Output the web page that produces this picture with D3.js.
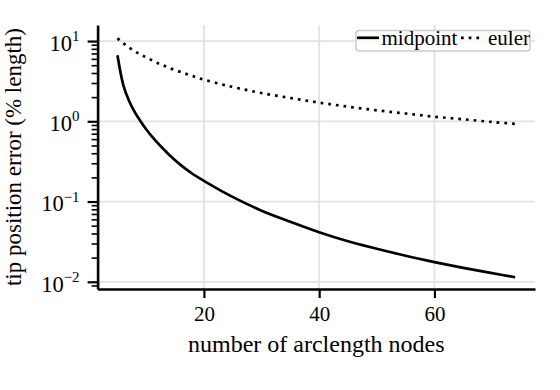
<!DOCTYPE html>
<html>
<head>
<meta charset="utf-8">
<script src="https://cdn.jsdelivr.net/npm/d3@7"></script>
<style>
  body { margin: 0; background: #fff; }
  svg { font-family: "Liberation Serif", "Times New Roman", serif; }
</style>
</head>
<body>
<div id="chart"></div>
<script>
// arclength node counts (x) and tip error in % length
const nodes = [5, 6, 7, 8, 9, 10, 11, 12, 13, 14, 16, 18, 20, 23, 26, 30, 35, 40, 45, 50, 55, 60, 65, 70, 74];
const midpoint = [6.64, 2.85, 1.8, 1.3, 1.0, 0.79, 0.645, 0.535, 0.45, 0.38, 0.284, 0.222, 0.181, 0.136, 0.105, 0.077, 0.056, 0.0415, 0.032, 0.0258, 0.0211, 0.0176, 0.0149, 0.0128, 0.0114];
const euler = [10.8, 9.4, 8.3, 7.45, 6.8, 6.25, 5.75, 5.3, 4.95, 4.63, 4.1, 3.67, 3.3, 2.9, 2.58, 2.25, 1.95, 1.71, 1.52, 1.37, 1.25, 1.14, 1.06, 0.98, 0.93];

const xTicks = [20, 40, 60];
const yTicks = [1e-2, 1e-1, 1e0, 1e1];

const width = 560, height = 390;
const margin = { top: 25, right: 25, bottom: 101, left: 97.6 };

const svg = d3.select("#chart").append("svg")
  .attr("width", width)
  .attr("height", height);

const x = d3.scaleLinear()
  .domain([1.55, 77.45])
  .range([margin.left, width - margin.right]);

const y = d3.scaleLog()
  .domain([Math.pow(10, -2.09), Math.pow(10, 1.2)])
  .range([height - margin.bottom, margin.top]);

// grid
const grid = svg.append("g").attr("stroke", "#e2e2e2").attr("stroke-width", 1.8);
grid.selectAll("line.gx").data(xTicks).join("line")
  .attr("x1", d => x(d)).attr("x2", d => x(d))
  .attr("y1", y.range()[1]).attr("y2", y.range()[0]);
grid.selectAll("line.gy").data(yTicks).join("line")
  .attr("y1", d => y(d)).attr("y2", d => y(d))
  .attr("x1", x.range()[0]).attr("x2", x.range()[1]);

// lines
const series = [
  { name: "midpoint", values: midpoint, dash: null },
  { name: "euler", values: euler, dash: "2.7,5" }
];

const line = d3.line()
  .x(d => x(d[0]))
  .y(d => y(d[1]))
  .curve(d3.curveCatmullRom.alpha(0.5));

svg.append("g").selectAll("path")
  .data(series)
  .join("path")
  .attr("d", s => line(nodes.map((n, i) => [n, s.values[i]])))
  .attr("fill", "none")
  .attr("stroke", "#000")
  .attr("stroke-width", 2.7)
  .attr("stroke-dasharray", s => s.dash);

// x axis
const xAxis = svg.append("g")
  .attr("transform", `translate(0,${y.range()[0]})`)
  .call(d3.axisBottom(x).tickValues(xTicks).tickSize(9).tickPadding(8).tickSizeOuter(0))
  .attr("font-family", null)
  .attr("font-size", 21);
xAxis.select(".domain").attr("stroke-width", 2.6);
xAxis.selectAll(".tick line").attr("stroke-width", 2.2);
xAxis.selectAll(".tick text").attr("fill", "#000");

// y minor ticks
const yMinor = [];
for (let e = -3; e <= 1; e++) {
  for (let m = 2; m <= 9; m++) {
    const v = m * Math.pow(10, e);
    if (v >= y.domain()[0] && v <= y.domain()[1]) yMinor.push(v);
  }
}
svg.append("g")
  .attr("transform", `translate(${x.range()[0]},0)`)
  .call(d3.axisLeft(y).tickValues(yMinor).tickSize(6).tickFormat(""))
  .call(g => g.select(".domain").remove())
  .selectAll(".tick line").attr("stroke-width", 1.6);

// y axis
const yAxis = svg.append("g")
  .attr("transform", `translate(${x.range()[0]},0)`)
  .call(d3.axisLeft(y).tickValues(yTicks).tickSize(10).tickPadding(8).tickSizeOuter(0).tickFormat(""))
  .attr("font-family", null)
  .attr("font-size", 22.5);
yAxis.select(".domain").attr("stroke-width", 2.6);
yAxis.selectAll(".tick line").attr("stroke-width", 2.2);
yAxis.selectAll(".tick text")
  .attr("fill", "#000")
  .attr("dy", "0.42em")
  .each(function (d) {
    const t = d3.select(this);
    t.append("tspan").text("10");
    t.append("tspan")
      .attr("font-size", 15)
      .attr("dy", "-0.65em")
      .text(String(Math.round(Math.log10(d))).replace("-", "\u2212"));
  });

// axis labels
svg.append("text")
  .attr("x", (x.range()[0] + x.range()[1]) / 2)
  .attr("y", 352)
  .attr("text-anchor", "middle")
  .attr("font-size", 24)
  .text("number of arclength nodes");

svg.append("text")
  .attr("transform", `translate(20.5,${(y.range()[0] + y.range()[1]) / 2}) rotate(-90)`)
  .attr("text-anchor", "middle")
  .attr("font-size", 23)
  .text("tip position error (% length)");

// legend
const legend = svg.append("g");
legend.append("rect")
  .attr("x", 356).attr("y", 30.5)
  .attr("width", 174).attr("height", 20.5)
  .attr("rx", 3)
  .attr("fill", "#fff").attr("fill-opacity", 0.8)
  .attr("stroke", "#cccccc").attr("stroke-width", 1.5);

const legendX = [357, 461];
const item = legend.selectAll("g.item").data(series).join("g")
  .attr("transform", (d, i) => `translate(${legendX[i]},0)`);
item.append("line")
  .attr("x1", 0).attr("x2", 22)
  .attr("y1", 37.8).attr("y2", 37.8)
  .attr("stroke", "#000").attr("stroke-width", 2.7)
  .attr("stroke-dasharray", d => d.dash);
item.append("text")
  .attr("x", (d, i) => i === 0 ? 24.5 : 27)
  .attr("y", 45)
  .attr("font-size", 21)
  .text(d => d.name);
</script>
</body>
</html>
